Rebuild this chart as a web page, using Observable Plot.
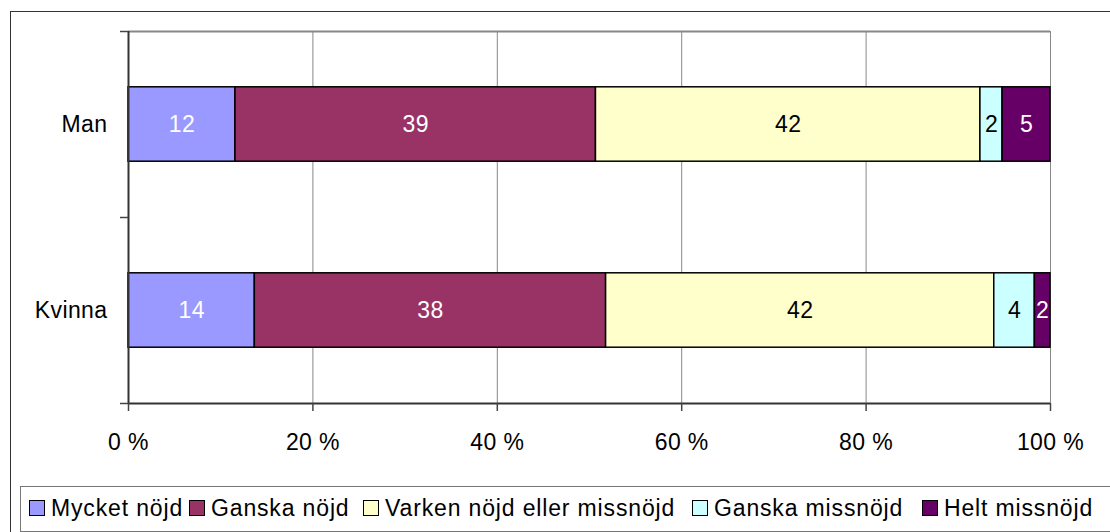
<!DOCTYPE html>
<html>
<head>
<meta charset="utf-8">
<script src="https://cdn.jsdelivr.net/npm/d3@7"></script>
<script src="https://cdn.jsdelivr.net/npm/@observablehq/plot@0.6"></script>
<style>
  body { margin: 0; background: #fff; font-family: "Liberation Sans", Arial, sans-serif; }
  #wrap { position: relative; width: 1110px; height: 532px; overflow: hidden; background: #fff; }
  #frame { position: absolute; left: 10px; top: 11px; width: 1200px; height: 600px; border: 1.5px solid #333; box-sizing: border-box; }
  #chart { position: absolute; left: 0; top: 0; }
  #legend { position: absolute; left: 20px; top: 486px; width: 1200px; height: 46px; border: 1.5px solid #777; box-sizing: border-box; }
  .item { position: absolute; top: 496px; height: 24px; display: flex; align-items: center; font-size: 23px; color: #000;
          white-space: nowrap; letter-spacing: 0.85px; }
  .sw { width: 14px; height: 14px; border: 1.5px solid #000; margin-right: 6px; flex: none; }
</style>
</head>
<body>
<div id="wrap">
  <div id="frame"></div>
  <div id="chart"></div>
  <div id="legend"></div>
</div>
<script>
// ---- data ----
const categories = ["Man", "Kvinna"];
const series = ["Mycket nöjd", "Ganska nöjd", "Varken nöjd eller missnöjd", "Ganska missnöjd", "Helt missnöjd"];
const valuesMan = [11.6, 39.1, 41.7, 2.4, 5.2];
const valuesKvinna = [13.7, 38.1, 42.1, 4.4, 1.7];
const xTicks = [0, 20, 40, 60, 80, 100];

// ---- styles ----
const colors = ["#9999FF", "#993366", "#FFFFCC", "#CCFFFF", "#660066"];
const labelColors = ["#fff", "#fff", "#000", "#000", "#fff"];
const legendLefts = [29, 189, 363, 692, 922];
const barPad = 0.3;

const valueSets = [valuesMan, valuesKvinna];
const rows = [];
categories.forEach((cat, ci) => {
  let acc = 0;
  valueSets[ci].forEach((v, si) => {
    rows.push({cat, ci, series: series[si], si, x1: acc, x2: acc + v, value: v});
    acc += v;
  });
});

const chart = Plot.plot({
  width: 1110,
  height: 470,
  marginLeft: 128,
  marginRight: 60,
  marginTop: 31,
  marginBottom: 67,
  style: {fontFamily: '"Liberation Sans", Arial, sans-serif', fontSize: "23px", color: "#000", background: "transparent", letterSpacing: "0.4px"},
  x: {domain: [0, 100]},
  y: {domain: [0, categories.length], reverse: true},
  marks: [
    Plot.gridX(xTicks.filter(d => d > 0), {stroke: "#888", strokeOpacity: 1, strokeWidth: 1}),
    Plot.gridY([0], {stroke: "#888", strokeOpacity: 1, strokeWidth: 2}),
    Plot.rect(rows, {
      x1: "x1", x2: "x2",
      y1: d => d.ci + barPad, y2: d => d.ci + 1 - barPad,
      fill: d => colors[d.si], stroke: "#000", strokeWidth: 1.5
    }),
    Plot.text(rows, {
      x: d => (d.x1 + d.x2) / 2, y: d => d.ci + 0.5,
      text: d => String(Math.round(d.value)),
      fill: d => labelColors[d.si], fontSize: 23
    }),
    Plot.ruleX([0], {stroke: "#333", strokeWidth: 2}),
    Plot.ruleY([categories.length], {stroke: "#333", strokeWidth: 2}),
    Plot.axisY(d3.range(0, categories.length + 1), {tickSize: 8, tickFormat: () => "", stroke: "#444", strokeWidth: 1.5, label: null}),
    Plot.axisY(categories.map((c, i) => i + 0.5), {tickSize: 0, tickPadding: 21, tickFormat: v => categories[Math.floor(v)], fontSize: 23, label: null}),
    Plot.axisX(xTicks, {tickSize: 8, tickPadding: 22, tickFormat: d => `${d} %`, fontSize: 23, stroke: "#444", strokeWidth: 1.5, label: null})
  ]
});
document.getElementById("chart").appendChild(chart);

const wrap = document.getElementById("wrap");
series.forEach((s, i) => {
  const item = document.createElement("div");
  item.className = "item";
  item.style.left = legendLefts[i] + "px";
  const sw = document.createElement("span");
  sw.className = "sw";
  sw.style.background = colors[i];
  const t = document.createElement("span");
  t.textContent = s;
  item.appendChild(sw);
  item.appendChild(t);
  wrap.appendChild(item);
});
</script>
</body>
</html>
